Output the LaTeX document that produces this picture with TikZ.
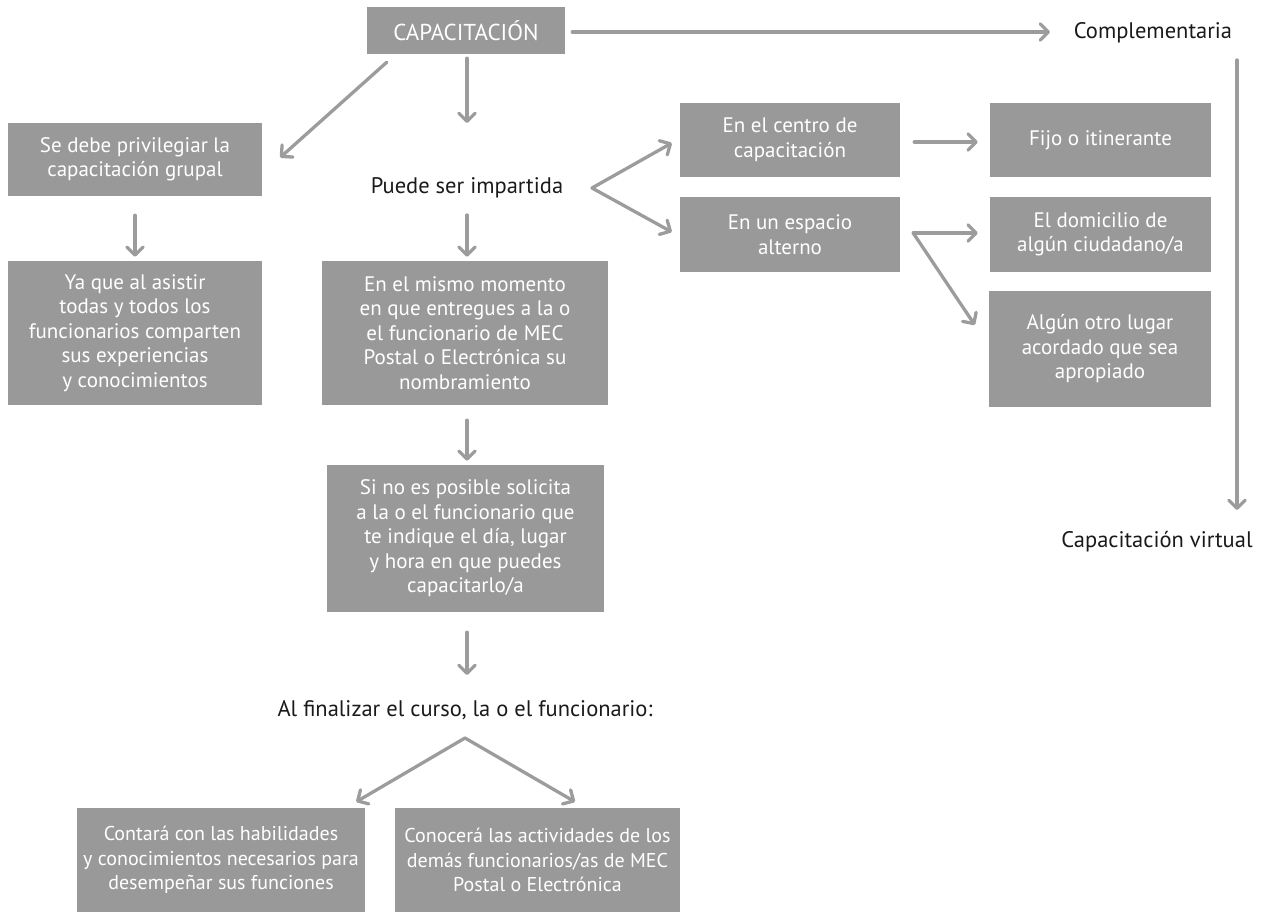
\documentclass[tikz,border=0pt]{standalone}
\usepackage{fontspec}
\setmainfont{PT Sans}
\usetikzlibrary{arrows.meta,calc}
\definecolor{boxgray}{HTML}{999999}
\definecolor{linegray}{HTML}{9C9C9C}
\definecolor{ink}{HTML}{1A1A1A}

\begin{document}
\begin{tikzpicture}[x=1pt,y=-1pt,
  box/.style={fill=boxgray, text=white, align=center, inner sep=0pt,
    font=\fontsize{21}{24.5}\selectfont},
  smallbox/.style={box, font=\fontsize{20}{24.5}\selectfont},
  lbl/.style={text=ink, inner sep=0pt, font=\fontsize{22.5}{26}\selectfont},
  arr/.style={draw=linegray, line width=3.3pt, line cap=round, line join=round,
    -{Straight Barb[angle=90:11.5pt, line cap=round, line join=round]}}]

\useasboundingbox (0,0) rectangle (1269,912);

% top row
\node[box, minimum width=198pt, minimum height=47pt, font=\fontsize{23}{26}\selectfont]
  (cap) at (466,30.5) {CAPACITACIÓN};
\node[lbl] (compl) at (1153,33) {Complementaria};
\node[lbl] (virt) at (1157,542) {Capacitación virtual};

% left column
\node[box, minimum width=254pt, minimum height=73pt] (sedebe) at (135,159.5)
  {Se debe privilegiar la\\capacitación grupal};
\node[box, minimum width=254pt, minimum height=144pt] (yaque) at (135,333)
  {Ya que al asistir\\todas y todos los\\funcionarios comparten\\sus experiencias\\y conocimientos};

% middle column
\node[lbl] (puede) at (467,188) {Puede ser impartida};
\node[box, minimum width=286pt, minimum height=144pt] (mismo) at (465,333)
  {En el mismo momento\\en que entregues a la o\\el funcionario de MEC\\Postal o Electrónica su\\nombramiento};
\node[box, minimum width=277pt, minimum height=147pt] (sino) at (465.5,538.5)
  {Si no es posible solicita\\a la o el funcionario que\\te indique el día, lugar\\y hora en que puedes\\capacitarlo/a};
\node[lbl] (final) at (465,710) {Al finalizar el curso, la o el funcionario:};
\node[smallbox, minimum width=288pt, minimum height=104pt] (contara) at (221,860)
  {Contará con las habilidades\\y conocimientos necesarios para\\desempeñar sus funciones};
\node[smallbox, minimum width=285pt, minimum height=104pt] (conocera) at (537.5,860)
  {Conocerá las actividades de los\\demás funcionarios/as de MEC\\Postal o Electrónica};

% places
\node[box, minimum width=220pt, minimum height=74pt] (centro) at (790,140)
  {En el centro de\\capacitación};
\node[box, minimum width=220pt, minimum height=75pt] (espacio) at (790,234.5)
  {En un espacio\\alterno};
\node[box, minimum width=221pt, minimum height=74pt] (fijo) at (1100.5,140)
  {Fijo o itinerante};
\node[box, minimum width=221pt, minimum height=75pt] (domicilio) at (1100.5,234.5)
  {El domicilio de\\algún ciudadano/a};
\node[box, minimum width=222pt, minimum height=116pt] (otro) at (1100,349)
  {Algún otro lugar\\acordado que sea\\apropiado};

% connectors
\draw[arr] ($(cap.east)+(7,1.5)$) -- ($(compl.center)+(-103,-1)$);
\draw[arr] ($(compl.center)+(84,27)$) -- ($(virt.center)+(80,-32)$);
\draw[arr] ($(cap.south west)+(20,8)$) -- ($(sedebe.east)+(18,-2)$);
\draw[arr] ($(cap.south)+(1,4)$) -- ($(puede.center)+(0,-65)$);
\draw[arr] ($(sedebe.south)+(0,19)$) -- ($(yaque.north)+(0,-4)$);
\draw[arr] ($(puede.center)+(0,27)$) -- ($(mismo.north)+(2,-4)$);
\draw[arr] ($(mismo.south)+(2,15)$) -- ($(sino.north)+(1.5,-4)$);
\draw[arr] ($(sino.south)+(1.5,20)$) -- ($(final.center)+(2,-35)$);
\draw[arr] ($(final.center)+(0,28)$) -- ($(contara.north east)+(-9,-6)$);
\draw[arr] ($(final.center)+(0,28)$) -- ($(conocera.north)+(37.5,-6)$);
\draw[arr] ($(puede.center)+(125,0)$) -- ($(centro.west)+(-8,3)$);
\draw[arr] ($(puede.center)+(125,0)$) -- ($(espacio.west)+(-8,-2.5)$);
\draw[arr] ($(centro.east)+(14,2)$) -- ($(fijo.west)+(-12,2)$);
\draw[arr] ($(espacio.east)+(13,-1.5)$) -- ($(domicilio.west)+(-12,-1.5)$);
\draw[arr] ($(espacio.east)+(13,-1.5)$) -- ($(otro.west)+(-14,-24)$);
\end{tikzpicture}
\end{document}
